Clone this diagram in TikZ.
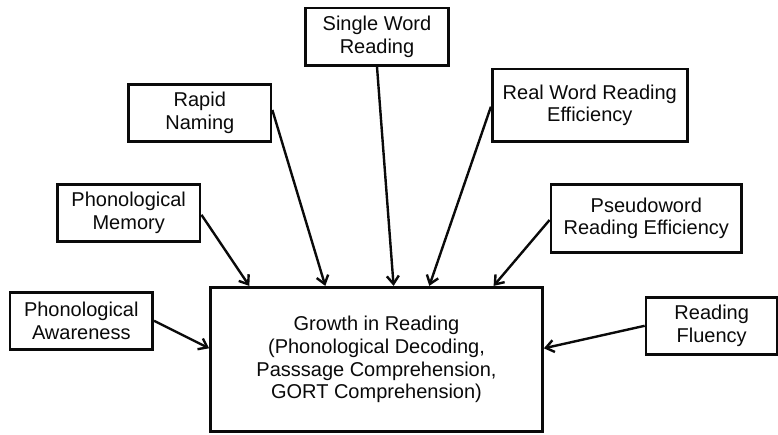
\documentclass[tikz,border=0pt]{standalone}
\usepackage{fontspec}
\setmainfont{Liberation Sans}
\usetikzlibrary{arrows.meta,calc}
\definecolor{inkc}{HTML}{0A0A0A}
\tikzset{
  boxnode/.style={draw=inkc, line width=2.8pt, fill=white, inner sep=0pt, align=center,
    text=inkc, font=\fontsize{20}{22.8}\selectfont},
  conn/.style={draw=inkc, line width=2.4pt, -{Straight Barb[length=8pt,width=12pt,line width=2.4pt]}}
}
\begin{document}
\begin{tikzpicture}[x=1pt,y=-1pt]
\useasboundingbox (0,0) rectangle (778,434);
\node[boxnode, minimum width=142.6pt, minimum height=57.3pt] (swr) at (377,36.7) {Single Word\\Reading};
\node[boxnode, minimum width=142.3pt, minimum height=57.4pt] (rn) at (199.8,113) {Rapid\\Naming};
\node[boxnode, minimum width=195pt, minimum height=72.7pt] (rwre) at (589.8,105.3) {Real Word Reading\\Efficiency};
\node[boxnode, minimum width=142.7pt, minimum height=57pt] (pm) at (128.7,212.8) {Phonological\\Memory};
\node[boxnode, minimum width=190.7pt, minimum height=68pt] (pre) at (646.3,218.3) {Pseudoword\\Reading Efficiency};
\node[boxnode, minimum width=142.7pt, minimum height=57pt] (pa) at (81.3,320.8) {Phonological\\Awareness};
\node[boxnode, minimum width=131.3pt, minimum height=57pt] (rf) at (711.7,325.8) {Reading\\Fluency};
\node[boxnode, minimum width=332pt, minimum height=144.4pt] (c) at (376.5,359.5) {Growth in Reading\\(Phonological Decoding,\\Passsage Comprehension,\\GORT Comprehension)};
\coordinate (t1) at ($(c.north west)+(40.2pt,0pt)$);
\coordinate (t2) at ($(c.north west)+(116.2pt,0pt)$);
\coordinate (t3) at ($(c.north west)+(184.5pt,0pt)$);
\coordinate (t4) at ($(c.north west)+(220.2pt,0pt)$);
\coordinate (t5) at ($(c.north west)+(284.5pt,0pt)$);
\coordinate (tl) at ($(c.west)+(0pt,11.2pt)$);
\coordinate (tr) at ($(c.east)+(0pt,11.2pt)$);
\draw[conn] ($(pm.east)+(0pt,-2pt)$) -- (t1);
\draw[conn] ($(rn.east)+(0pt,3pt)$) -- (t2);
\draw[conn] (swr.south) -- (t3);
\draw[conn] ($(rwre.west)+(0pt,-1.4pt)$) -- (t4);
\draw[conn] ($(pre.west)+(0pt,-1.7pt)$) -- (t5);
\draw[conn] (pa.east) -- (tl);
\draw[conn] (rf.west) -- (tr);
\end{tikzpicture}
\end{document}
